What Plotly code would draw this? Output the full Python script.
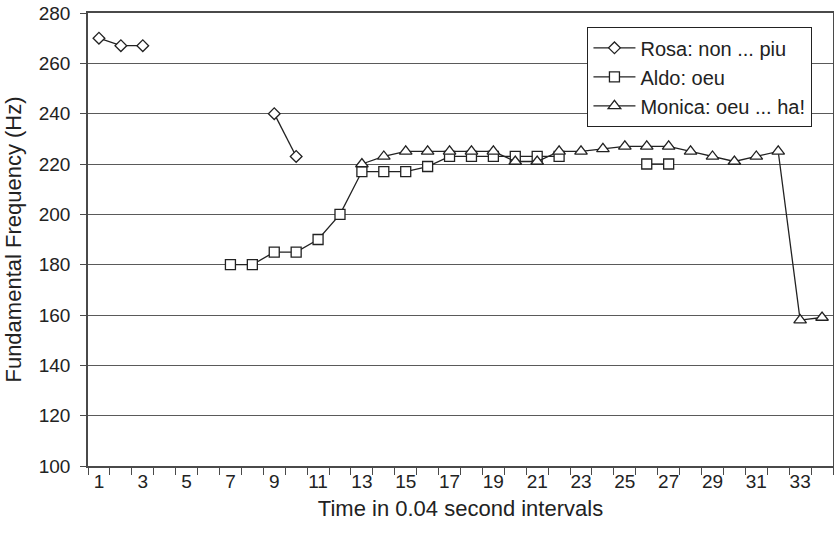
import plotly.graph_objects as go

time_idx = list(range(1, 35))
rosa = [270, 267, 267, None, None, None, None, None, 240, 223] + [None] * 24
aldo = ([None] * 6 + [180, 180, 185, 185, 190, 200, 217, 217, 217, 219, 223, 223, 223, 223, 223, 223]
        + [None, None, None, 220, 220] + [None] * 7)
monica = ([None] * 12 + [220, 223, 225, 225, 225, 225, 225, 221, 221, 225, 225, 226, 227, 227, 227,
                         225, 223, 221, 223, 225, 158, 159])
x_labels = [str(v) for v in range(1, 35, 2)]

names = ["Rosa: non ... piu", "Aldo: oeu", "Monica: oeu ... ha!"]
symbols = ["diamond", "square", "triangle-up"]
sizes = [9, 10, 11]
series = [rosa, aldo, monica]

ink = "#222222"
axis_col = "#4a4a4a"
font_family = "Liberation Sans, Arial, sans-serif"

fig = go.Figure()
for name, ys, sym, sz in zip(names, series, symbols, sizes):
    fig.add_trace(go.Scatter(
        x=time_idx, y=ys, name=name, mode="lines+markers",
        connectgaps=False, cliponaxis=False,
        line=dict(color=ink, width=1.3),
        marker=dict(symbol=sym, size=sz, color="white",
                    line=dict(color=ink, width=1.3)),
    ))

fig.update_layout(
    width=834, height=538,
    margin=dict(l=88, r=1, t=13, b=72),
    paper_bgcolor="white", plot_bgcolor="white",
    font=dict(family=font_family, size=19, color=ink),
    showlegend=True,
    legend=dict(
        x=0.67, y=0.969, xanchor="left", yanchor="top",
        bgcolor="white", bordercolor=ink, borderwidth=1.3,
        font=dict(size=20, color=ink),
        tracegroupgap=0, itemwidth=42,
    ),
    xaxis=dict(
        range=[0.5, 34.5], automargin=False,
        tickvals=list(range(1, 35, 2)), ticktext=x_labels,
        ticks="", showgrid=False, zeroline=False, ticklabelstandoff=-3,
        ticklabeloverflow="allow",
        showline=True, linecolor=axis_col, linewidth=1.5, mirror=True,
        minor=dict(tickvals=[i + 0.5 for i in range(0, 35)], ticks="outside",
                   ticklen=7, tickcolor=axis_col, tickwidth=1.3, showgrid=False),
        title=dict(text="Time in 0.04 second intervals", font=dict(size=22), standoff=10),
        tickfont=dict(size=19),
    ),
    yaxis=dict(
        range=[100, 280], dtick=20, tick0=100, automargin=False,
        ticks="outside", ticklen=6, tickcolor=axis_col, tickwidth=1.3,
        ticklabelstandoff=6, ticklabeloverflow="allow",
        showgrid=True, gridcolor="#5a5a5a", gridwidth=1.2, zeroline=False,
        showline=True, linecolor=axis_col, linewidth=1.5, mirror=True,
        title=dict(text="Fundamental Frequency (Hz)", font=dict(size=22), standoff=11),
        tickfont=dict(size=19),
    ),
)

fig.write_html(
    "out.html",
    config={"displayModeBar": False},
    post_script="document.body.style.margin='0';document.body.style.overflow='hidden';",
)
